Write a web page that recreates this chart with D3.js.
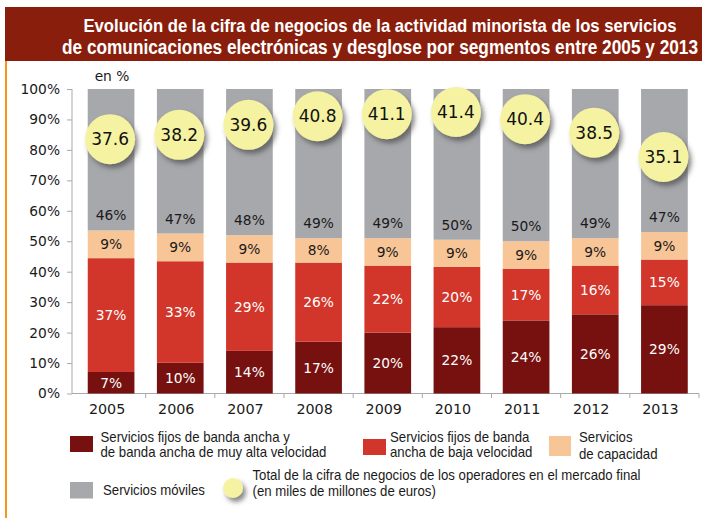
<!DOCTYPE html>
<html><head><meta charset="utf-8">
<script src="https://cdn.jsdelivr.net/npm/d3@7"></script>
<style>
html,body{margin:0;padding:0;background:#fff;}
svg{display:block;}
</style></head>
<body>
<svg id="chart" width="702" height="518"></svg>
<script>
const years = ["2005","2006","2007","2008","2009","2010","2011","2012","2013"];
const fijosAlta = [7,10,14,17,20,22,24,26,29];
const fijosBaja = [37,33,29,26,22,20,17,16,15];
const capacidad = [9,9,9,8,9,9,9,9,9];
const moviles = [46,47,48,49,49,50,50,49,47];
const totalNegocios = [37.6,38.2,39.6,40.8,41.1,41.4,40.4,38.5,35.1];
const yTicks = [0,0.1,0.2,0.3,0.4,0.5,0.6,0.7,0.8,0.9,1];
const titleLines = ["Evolución de la cifra de negocios de la actividad minorista de los servicios",
                    "de comunicaciones electrónicas y desglose por segmentos entre 2005 y 2013"];
const seriesKeys = ["fijosAlta","fijosBaja","capacidad","moviles"];
const legendLabels = {
  fijosAlta:["Servicios fijos de banda ancha y","de banda ancha de muy alta velocidad"],
  fijosBaja:["Servicios fijos de banda","ancha de baja velocidad"],
  capacidad:["Servicios","de capacidad"],
  moviles:["Servicios móviles"],
  total:["Total de la cifra de negocios de los operadores en el mercado final","(en miles de millones de euros)"]
};

const colors = {fijosAlta:"#76110F", fijosBaja:"#D2352A", capacidad:"#F8C597", moviles:"#A7A8AC"};
const labelColors = {fijosAlta:"#fff", fijosBaja:"#fff", capacidad:"#1a1a1a", moviles:"#1a1a1a"};
const numFont = "'DejaVu Sans', Verdana, sans-serif";
const narrowFont = "'Liberation Sans Narrow', 'Arial Narrow', sans-serif";

const svg = d3.select("#chart");
const defs = svg.append("defs");
const f = defs.append("filter").attr("id","shadow").attr("x","-50%").attr("y","-50%").attr("width","200%").attr("height","200%");
f.append("feDropShadow").attr("dx",3).attr("dy",4).attr("stdDeviation",2.5).attr("flood-color","#444").attr("flood-opacity",0.65);

// banner
svg.append("rect").attr("x",5).attr("y",7).attr("width",697).attr("height",54).attr("fill","#8A1E0C");
svg.append("rect").attr("x",5).attr("y",61).attr("width",2).attr("height",457).attr("fill","#F7941D");
const titleBase = [31.5,53.5];
const targetW = [593, 636];
titleLines.forEach((t,i)=>{
  const g = svg.append("g").attr("transform",`translate(380,${titleBase[i]}) scale(1,1.12)`);
  const el = g.append("text").attr("x",0).attr("y",0).attr("text-anchor","middle")
    .attr("fill","#fff").attr("font-family",narrowFont).attr("font-weight","bold").attr("font-size",20).text(t);
  const w = el.node().getComputedTextLength();
  el.attr("font-size", 20*targetW[i]/w);
});

// data table
const data = years.map((y,i)=>({year:y, fijosAlta:fijosAlta[i], fijosBaja:fijosBaja[i], capacidad:capacidad[i], moviles:moviles[i], total:totalNegocios[i]}));
const stack = d3.stack().keys(seriesKeys).offset(d3.stackOffsetExpand);
const series = stack(data);

const x = d3.scaleBand().domain(years).range([76.5,699]).paddingInner(0.325).paddingOuter(0.1625);
const y = d3.scaleLinear().domain([0,1]).range([393.5,89]);
const yB = d3.scaleLinear().domain([35,42]).range([157.7,107.7]);

// y axis
const yAxis = d3.axisLeft(y).tickValues(yTicks).tickFormat(d3.format(".0%")).tickSize(5).tickPadding(7);
const ya = svg.append("g").attr("transform","translate(72,0)").call(yAxis);
ya.select(".domain").attr("stroke","#A9A9A9").attr("d","M0,89V393.5");
ya.selectAll(".tick line").attr("stroke","#A9A9A9");
ya.selectAll(".tick text").attr("font-family",numFont).attr("font-size",13.8).attr("fill","#1a1a1a");

// x axis
svg.append("line").attr("x1",72).attr("x2",699).attr("y1",393.5).attr("y2",393.5).attr("stroke","#A9A9A9");
svg.append("g").selectAll("line").data(years).join("line")
  .attr("x1",d=>x(d)+x.bandwidth()+x.step()*x.paddingInner()/2).attr("x2",d=>x(d)+x.bandwidth()+x.step()*x.paddingInner()/2)
  .attr("y1",393.5).attr("y2",398).attr("stroke","#A9A9A9");
svg.append("g").selectAll("text").data(years).join("text")
  .attr("x",d=>x(d)+x.bandwidth()/2-4).attr("y",413.5).attr("text-anchor","middle")
  .attr("font-family",numFont).attr("font-size",14.3).attr("fill","#1a1a1a").text(d=>d);

svg.append("text").attr("x",112).attr("y",80.5).attr("text-anchor","middle")
  .attr("font-family",numFont).attr("font-size",13.8).attr("fill","#1a1a1a").text("en %");

// bars
const gBars = svg.append("g");
series.forEach(s=>{
  gBars.append("g").selectAll("rect").data(s).join("rect")
    .attr("x",d=>x(d.data.year)).attr("width",x.bandwidth())
    .attr("y",d=>y(d[1])).attr("height",d=>y(d[0])-y(d[1]))
    .attr("fill",colors[s.key]);
});
series.forEach(s=>{
  gBars.append("g").selectAll("text").data(s).join("text")
    .attr("x",d=>x(d.data.year)+x.bandwidth()/2)
    .attr("y",d=> s.key==="moviles" ? y(d[0])-15 : (y(d[0])+y(d[1]))/2)
    .attr("dy","0.36em").attr("text-anchor","middle")
    .attr("font-family",numFont).attr("font-size",13.8).attr("fill",labelColors[s.key])
    .text(d=>d.data[s.key]+"%");
});

// bubbles
const gB = svg.append("g");
gB.selectAll("circle").data(data).join("circle")
  .attr("cx",d=>x(d.year)+x.bandwidth()/2-1).attr("cy",d=>yB(d.total)).attr("r",25)
  .attr("fill","#F5F3A1").attr("filter","url(#shadow)");
gB.selectAll("text").data(data).join("text")
  .attr("x",d=>x(d.year)+x.bandwidth()/2-1).attr("y",d=>yB(d.total)).attr("dy","0.36em")
  .attr("text-anchor","middle").attr("font-family",numFont).attr("font-size",17).attr("fill","#111")
  .text(d=>d3.format(".1f")(d.total));

// legend
const legendPos = [
  {key:"fijosAlta", rx:70, ry:436, rw:23, rh:16, tx:100.5, ty:[441.7,456.7]},
  {key:"fijosBaja", rx:363, ry:439, rw:23, rh:16, tx:390, ty:[441.7,456.7]},
  {key:"capacidad", rx:549, ry:436, rw:22, rh:20, tx:579, ty:[442,459]},
  {key:"moviles", rx:70, ry:482, rw:23, rh:16.5, tx:103, ty:[495]}
];
const lg = svg.append("g");
legendPos.forEach(p=>{
  lg.append("rect").attr("x",p.rx).attr("y",p.ry).attr("width",p.rw).attr("height",p.rh).attr("fill",colors[p.key]);
  legendLabels[p.key].forEach((t,i)=>{
    lg.append("text").attr("x",p.tx).attr("y",p.ty[i]).attr("font-family",narrowFont).attr("font-size",14.5)
      .attr("fill","#1a1a1a").text(t);
  });
});
lg.append("circle").attr("cx",233).attr("cy",488).attr("r",10).attr("fill","#F5F3A1").attr("filter","url(#shadow)");
legendLabels.total.forEach((t,i)=>{
  lg.append("text").attr("x",252.5).attr("y",[480,496][i]).attr("font-family",narrowFont).attr("font-size",14.5)
    .attr("fill","#1a1a1a").text(t);
});
lg.selectAll("text").each(function(){
  const w = this.getComputedTextLength();
  d3.select(this).attr("textLength", w*0.91).attr("lengthAdjust","spacingAndGlyphs");
});
</script>
</body></html>
